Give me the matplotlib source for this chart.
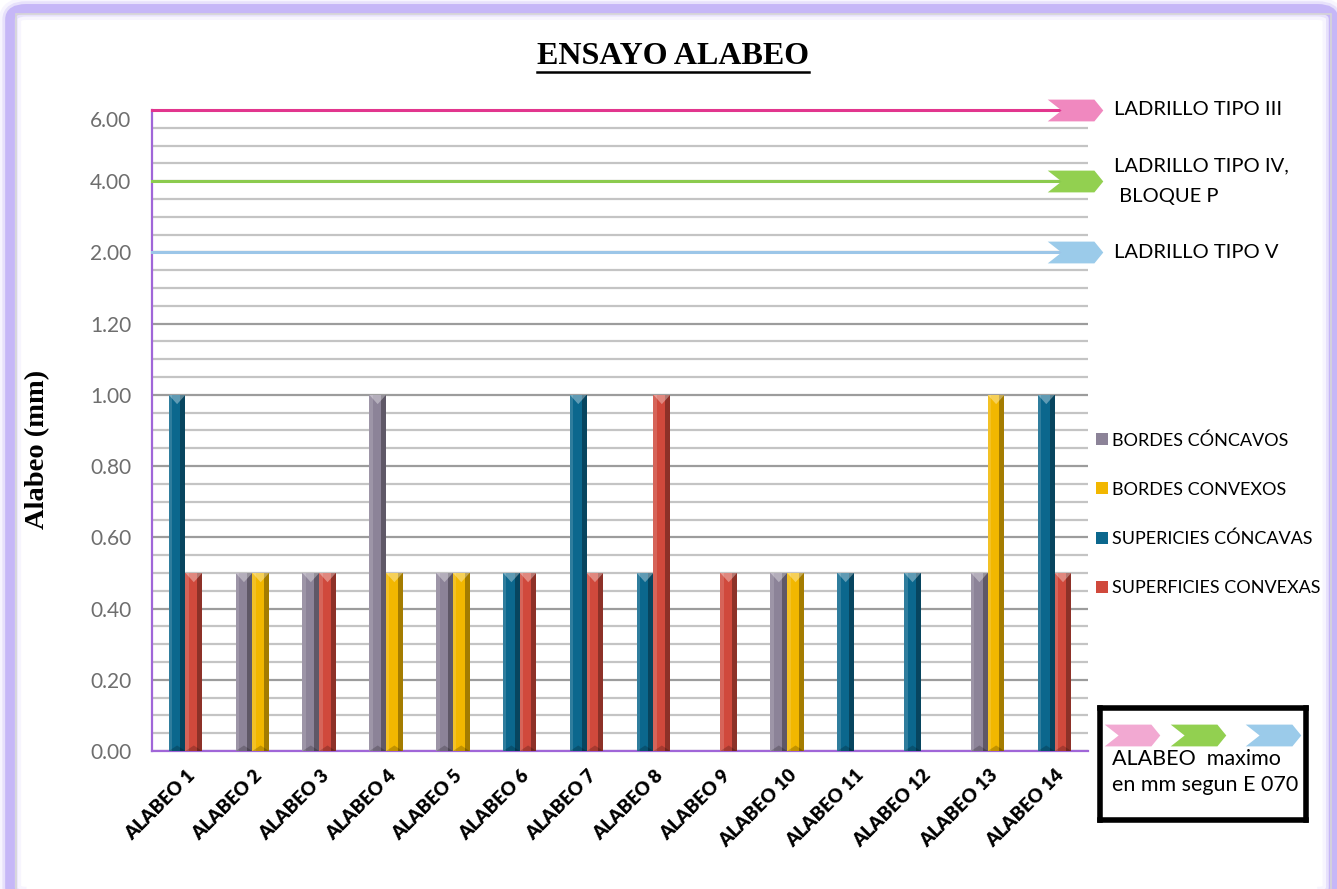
import numpy as np
import matplotlib
matplotlib.use("Agg")
import matplotlib.pyplot as plt
from matplotlib.path import Path
from matplotlib.patches import Rectangle, Polygon, FancyBboxPatch
from matplotlib.lines import Line2D
from matplotlib.transforms import blended_transform_factory, ScaledTranslation

# Datos del ensayo de alabeo (mm)
muestras = ["ALABEO 1", "ALABEO 2", "ALABEO 3", "ALABEO 4", "ALABEO 5", "ALABEO 6", "ALABEO 7",
            "ALABEO 8", "ALABEO 9", "ALABEO 10", "ALABEO 11", "ALABEO 12", "ALABEO 13", "ALABEO 14"]
bordes_concavos = [0, 0.5, 0.5, 1.0, 0.5, 0, 0, 0, 0, 0.5, 0, 0, 0.5, 0]
bordes_convexos = [0, 0.5, 0, 0.5, 0.5, 0, 0, 0, 0, 0.5, 0, 0, 1.0, 0]
sup_concavas = [1.0, 0, 0, 0, 0, 0.5, 1.0, 0.5, 0, 0, 0.5, 0.5, 0, 1.0]
sup_convexas = [0.5, 0, 0.5, 0, 0, 0.5, 0.5, 1.0, 0.5, 0, 0, 0, 0, 0.5]

# Alabeo maximo segun E 070
limites = [6.0, 4.0, 2.0]
nombres_limites = ["LADRILLO TIPO III", "LADRILLO TIPO IV,\n BLOQUE P", "LADRILLO TIPO V"]
color_linea = ["#E2368E", "#8CCB4E", "#9CC6E8"]
color_flecha = ["#F088BF", "#92D050", "#9BCBEA"]

ticks_y = [0, 0.2, 0.4, 0.6, 0.8, 1.0, 1.2, 2.0, 4.0, 6.0]

# escala por tramos: 0-1.2 lineal, luego 2, 4, 6 comprimidos
val_pts = [0, 1.2, 2.0, 6.0]
pos_pts = [0, 1.2, 1.4, 1.8]


def forward(v):
    return np.interp(v, val_pts, pos_pts)


def inverse(p):
    return np.interp(p, pos_pts, val_pts)


plt.rcParams["font.family"] = ["Lato", "DejaVu Sans"]

fig = plt.figure(figsize=(13.37, 8.89), dpi=100)
ax = fig.add_axes([0.1137, 0.1552, 0.7001, 0.7211])
ax.set_yscale("function", functions=(forward, inverse))

x = np.arange(len(muestras))
w = 0.25
series = [
    (bordes_concavos, -w / 2, "#8C8398", "BORDES CÓNCAVOS"),
    (bordes_convexos, w / 2, "#F2B700", "BORDES CONVEXOS"),
    (sup_concavas, -w / 2, "#0B678D", "SUPERICIES CÓNCAVAS"),
    (sup_convexas, w / 2, "#D0493C", "SUPERFICIES CONVEXAS"),
]
handles = []
for vals, off, col, lab in series:
    bars = ax.bar(x + off, vals, w, color=col, linewidth=0, label=lab, zorder=3)
    handles.append(bars)
    # biselado de cada barra
    for p in bars.patches:
        h = p.get_height()
        if h <= 0:
            continue
        x0, bw = p.get_x(), p.get_width()
        tri = 0.026
        ax.add_patch(Rectangle((x0, 0), bw * 0.2, h, color="white", alpha=0.15, lw=0, zorder=4))
        ax.add_patch(Rectangle((x0 + bw * 0.7, 0), bw * 0.3, h, color="black", alpha=0.32, lw=0, zorder=4))
        ax.add_patch(Polygon([(x0, h), (x0 + bw, h), (x0 + bw / 2, h - tri)], closed=True,
                             color="white", alpha=0.35, lw=0, zorder=5))
        ax.add_patch(Polygon([(x0, 0), (x0 + bw, 0), (x0 + bw / 2, tri * 0.6)], closed=True,
                             color="black", alpha=0.2, lw=0, zorder=5))

ax.set_xlim(-0.5, len(muestras) - 0.5)
ax.set_ylim(0, 6)

# rejilla
ax.set_yticks(ticks_y)
ax.set_yticklabels([f"{t:.2f}" for t in ticks_y])
ax.set_yticks(inverse(np.arange(0.05, 1.8, 0.05)), minor=True)
ax.grid(axis="y", which="major", color="#9C9C9C", lw=1.6, zorder=1)
ax.grid(axis="y", which="minor", color="#C4C4C4", lw=1.6, zorder=1)
ax.tick_params(axis="y", which="both", length=0, pad=15, labelsize=15, labelcolor="#6E6E6E")
ax.get_yticklabels()[-1].set_transform(ax.get_yticklabels()[-1].get_transform()
                                       + ScaledTranslation(0, -0.09, fig.dpi_scale_trans))
ax.tick_params(axis="x", length=0, pad=4)
ax.set_xticks(x)
ax.set_xticklabels(muestras, rotation=45, ha="right", va="center", rotation_mode="anchor",
                   fontsize=13.5, fontweight="heavy")
for lbl in ax.get_xticklabels():
    lbl.set_transform(lbl.get_transform() + ScaledTranslation(0.07, -0.16, fig.dpi_scale_trans))

for s in ["top", "right"]:
    ax.spines[s].set_visible(False)
for s in ["left", "bottom"]:
    ax.spines[s].set_color("#A066D8")
    ax.spines[s].set_linewidth(1.6)

ax.set_ylabel("Alabeo (mm)", fontfamily="Liberation Serif", fontweight="bold", fontsize=20.5)
ax.yaxis.set_label_coords(-0.109, 0.47)

# flecha tipo chevron
chevron = Path([(-0.5, 0.196), (0.34, 0.196), (0.5, 0), (0.34, -0.196), (-0.5, -0.196), (-0.25, 0), (-0.5, 0.196)],
               [Path.MOVETO] + [Path.LINETO] * 5 + [Path.CLOSEPOLY])

x_fin = 13.31
txt_tr = blended_transform_factory(fig.transFigure, ax.transData)
for lim, nom, cl, cf in zip(limites, nombres_limites, color_linea, color_flecha):
    ax.plot([-0.5, x_fin - 0.2], [lim, lim], color=cl, lw=2.2, zorder=6, clip_on=False)
    ax.plot([x_fin], [lim], marker=chevron, markersize=40, color=cf, markeredgewidth=0,
            zorder=7, clip_on=False)
    ax.text(0.833, lim, nom, transform=txt_tr, fontsize=14.5, va="center", ha="left", linespacing=1.95)

# leyenda de series
fig.legend(handles=handles, loc="upper left", bbox_to_anchor=(0.8197, 0.514), frameon=False,
           fontsize=13, handlelength=0.65, handleheight=0.65, handletextpad=0.25,
           labelspacing=1.83, borderpad=0, borderaxespad=0)

# recuadro de alabeo maximo
cax = fig.add_axes([0.8227, 0.0776, 0.154, 0.126])
cax.set_xlim(0, 1)
cax.set_ylim(0, 1)
cax.set_xticks([])
cax.set_yticks([])
for s in cax.spines.values():
    s.set_linewidth(4)
    s.set_color("black")
for xc, cf in zip([0.155, 0.476, 0.84], ["#F2A9D2", "#92D050", "#9BCBEA"]):
    cax.plot([xc], [0.76], marker=chevron, markersize=40, color=cf, markeredgewidth=0, clip_on=False)
cax.text(0.058, 0.63, "ALABEO  maximo\nen mm segun E 070", fontsize=15.5, va="top", ha="left",
         linespacing=1.35)

# titulo subrayado
t = fig.text(0.5034, 0.936, "ENSAYO ALABEO", ha="center", va="center", fontsize=23,
             fontweight="bold", fontfamily="Liberation Serif")
fig.canvas.draw()
bb = t.get_window_extent()
(ux0, uy), (ux1, _) = fig.transFigure.inverted().transform([(bb.x0, bb.y0 - 1), (bb.x1, bb.y0 - 1)])
fig.add_artist(Line2D([ux0, ux1], [uy, uy], color="black", lw=1.8, transform=fig.transFigure))

# marco exterior con brillo
for lw, a in [(16, 0.12), (11, 0.3), (7, 0.9)]:
    fig.add_artist(FancyBboxPatch((0.0075, -0.01), 0.99, 1.0, boxstyle="round,pad=0,rounding_size=0.012",
                                  transform=fig.transFigure, fill=False, ec="#C3B3F7", lw=lw, alpha=a))
fig.add_artist(Rectangle((0.0118, -0.002), 0.9836, 0.9865, transform=fig.transFigure, fill=False,
                         ec="#D6D6D6", lw=1.2))

fig.savefig("out.png", dpi=100)
